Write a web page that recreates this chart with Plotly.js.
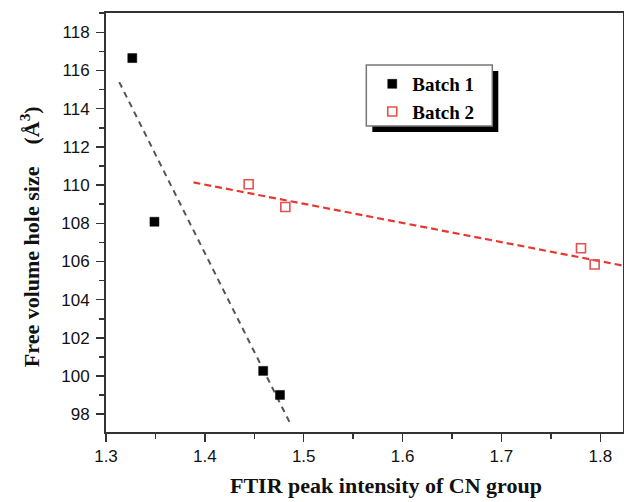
<!DOCTYPE html>
<html>
<head>
<meta charset="utf-8">
<script src="https://cdn.plot.ly/plotly-3.0.1.min.js"></script>
<style>html,body{margin:0;padding:0;background:#fff;}#chart{width:624px;height:502px;}</style>
</head>
<body>
<div id="chart"></div>
<script>
// Batch 1 data
const batch1X = [1.3266, 1.349, 1.459, 1.476];
const batch1Y = [116.65, 108.08, 100.27, 99.01];
// Batch 2 data
const batch2X = [1.4443, 1.4814, 1.7805, 1.7943];
const batch2Y = [110.04, 108.85, 106.69, 105.84];
// Linear fit lines (endpoints)
const fit1X = [1.3134, 1.4865];
const fit1Y = [115.39, 97.5];
const fit2X = [1.3885, 1.823];
const fit2Y = [110.14, 105.78];
// Axis texts
const xTitle = 'FTIR peak intensity of CN group';
const yTitle = 'Free volume hole size&nbsp;&nbsp;&nbsp;&nbsp;(Å<sup>3</sup>)';
const names = ['Batch 1', 'Batch 2'];

const serif = 'Liberation Serif, Times New Roman, serif';
const sans = 'Liberation Sans, Arial, sans-serif';

const traces = [
  {x: fit1X, y: fit1Y, mode: 'lines', line: {color: '#555555', width: 2, dash: '6px,5px'}, showlegend: false, hoverinfo: 'skip'},
  {x: fit2X, y: fit2Y, mode: 'lines', line: {color: '#e8372f', width: 2.2, dash: '7px,4px'}, showlegend: false, hoverinfo: 'skip'},
  {x: batch1X, y: batch1Y, mode: 'markers', name: names[0],
   marker: {symbol: 'square', size: 9, color: '#000000', line: {width: 0.5, color: '#000'}}},
  {x: batch2X, y: batch2Y, mode: 'markers', name: names[1],
   marker: {symbol: 'square-open', size: 9, color: '#e8504f', line: {width: 1.6, color: '#e8504f'}}}
];

const axisCommon = {
  showgrid: false, zeroline: false, showline: true, linecolor: '#333333', linewidth: 2,
  mirror: true, ticks: 'outside', ticklen: 8, tickwidth: 1.5, tickcolor: '#333333',
  tickfont: {family: sans, size: 17, color: '#111111'},
};

const layout = {
  width: 624, height: 502,
  margin: {l: 106, r: 1, t: 13, b: 70},
  paper_bgcolor: '#ffffff', plot_bgcolor: '#ffffff',
  xaxis: Object.assign({}, axisCommon, {
    range: [1.3, 1.823], tick0: 1.3, dtick: 0.1,
    minor: {dtick: 0.05, ticks: 'outside', ticklen: 5, tickwidth: 1.5, tickcolor: '#333333'}
  }),
  yaxis: Object.assign({}, axisCommon, {
    range: [97.07, 119.01], tick0: 98, dtick: 2, ticklabelstandoff: 3,
    minor: {dtick: 1, ticks: 'outside', ticklen: 5, tickwidth: 1.5, tickcolor: '#333333'}
  }),
  showlegend: true,
  legend: {
    x: 0.515, y: 0.8759, xanchor: 'left', yanchor: 'top',
    bgcolor: 'rgba(0,0,0,0)', borderwidth: 0,
    font: {family: serif, size: 19, color: '#000000', weight: 'bold'},
    tracegroupgap: 0
  },
  shapes: [
    {type: 'rect', xref: 'paper', yref: 'paper', x0: 0.5151, x1: 0.7588, y0: 0.716, y1: 0.8616,
     fillcolor: '#000000', line: {width: 0}, layer: 'above'},
    {type: 'rect', xref: 'paper', yref: 'paper', x0: 0.5035, x1: 0.7472, y0: 0.7303, y1: 0.8759,
     fillcolor: '#ffffff', line: {width: 1.5, color: '#777777'}, layer: 'above'}
  ],
  annotations: [
    {text: xTitle, xref: 'paper', yref: 'paper', x: 0.541, y: -0.128, xanchor: 'center', yanchor: 'middle',
     showarrow: false, font: {family: serif, size: 22, color: '#111111', weight: 'bold'}},
    {text: yTitle, xref: 'paper', yref: 'paper', x: -0.147, y: 0.465, xanchor: 'center', yanchor: 'middle',
     textangle: -90, showarrow: false, font: {family: serif, size: 22, color: '#111111', weight: 'bold'}}
  ]
};

Plotly.newPlot('chart', traces, layout, {displayModeBar: false, staticPlot: true});
</script>
</body>
</html>
